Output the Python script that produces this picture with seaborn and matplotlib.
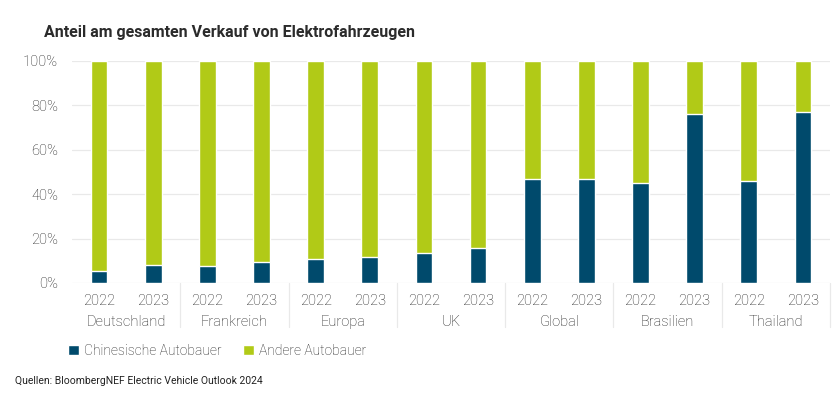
import numpy as np
import pandas as pd
import matplotlib
matplotlib.use("Agg")
import matplotlib.pyplot as plt
import seaborn as sns
from matplotlib.patches import Patch
from matplotlib.ticker import PercentFormatter

# data (share of Chinese makers, in %)
regions = ["Deutschland", "Frankreich", "Europa", "UK", "Global", "Brasilien", "Thailand"]
years = ["2022", "2023"]
chinese_2022 = [5.3, 7.6, 10.6, 13.3, 47.0, 44.9, 45.8]
chinese_2023 = [7.9, 9.4, 11.5, 15.6, 47.0, 76.2, 77.1]

BLUE = "#004a6c"
GREEN = "#b1ca17"
TEXT = "#222222"
GRID = "#e9e9e9"

rows = []
for i, reg in enumerate(regions):
    for yr, vals in zip(years, [chinese_2022, chinese_2023]):
        rows.append({"key": f"{reg}\n{yr}", "region": reg, "year": yr,
                     "chinese": vals[i], "total": 100.0})
df = pd.DataFrame(rows)
order = list(df["key"])

sns.set_theme(style="white")
plt.rcParams["font.family"] = ["Roboto", "DejaVu Sans"]
plt.rcParams["font.weight"] = "light"

fig = plt.figure(figsize=(8.32, 3.97), dpi=100)
ax = fig.add_axes([72 / 832, (397 - 283) / 397, (830 - 72) / 832, (283 - 61) / 397])

# stacked bars: full height in green, chinese share in blue on top
sns.barplot(data=df, x="key", y="total", order=order, color=GREEN, width=0.31,
            saturation=1, ax=ax, zorder=3)
sns.barplot(data=df, x="key", y="chinese", order=order, color=BLUE, width=0.31,
            saturation=1, ax=ax, zorder=4)

ax.set_ylim(0, 100)
ax.set_xlim(-0.5, len(order) - 0.5)
ax.set_yticks([0, 20, 40, 60, 80, 100])
ax.yaxis.set_major_formatter(PercentFormatter(decimals=0))
ax.grid(axis="y", color=GRID, linewidth=0.9, zorder=0)
ax.set_axisbelow(True)
for s in ax.spines.values():
    s.set_visible(False)
ax.set_xlabel("")
ax.set_ylabel("")
ax.set_xticks(range(len(order)))
ax.set_xticklabels(list(df["year"]))
ax.tick_params(axis="both", length=0, labelsize=10.5, labelcolor=TEXT)
ax.tick_params(axis="x", pad=8)
ax.tick_params(axis="y", pad=10)

# region labels under the year labels, plus light group separators
trans = ax.get_xaxis_transform()
for i, reg in enumerate(regions):
    ax.text(2 * i + 0.5, -0.175, reg, transform=trans, ha="center", va="center",
            fontsize=10.5, color=TEXT)
    xsep = 2 * i + 1.5
    ax.plot([xsep, xsep], [0, -0.2], transform=trans, color=GRID, lw=0.9,
            clip_on=False)

fig.text(44 / 832, 1 - 32 / 397, "Anteil am gesamten Verkauf von Elektrofahrzeugen",
         fontsize=11.5, fontweight="bold", color="#2b2b2b", va="center")

handles = [Patch(facecolor=BLUE, label="Chinesische Autobauer"),
           Patch(facecolor=GREEN, label="Andere Autobauer")]
fig.legend(handles=handles, loc="center left", bbox_to_anchor=(55 / 832, 1 - 351 / 397),
           ncol=2, frameon=False, fontsize=10, handlelength=0.8, handleheight=0.8,
           handletextpad=0.4, columnspacing=1.5, labelcolor=TEXT)

fig.text(15 / 832, 1 - 381 / 397, "Quellen: BloombergNEF Electric Vehicle Outlook 2024",
         fontsize=7.5, fontweight="normal", color=TEXT, va="center")

fig.savefig("out.png", dpi=100)
